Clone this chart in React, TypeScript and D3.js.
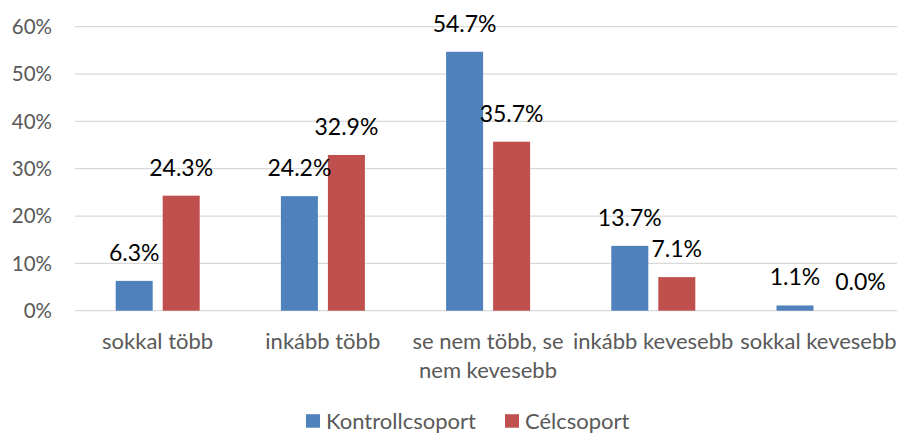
import * as d3 from 'd3'
import { useEffect, useRef } from 'react'

const categories = ['sokkal több', 'inkább több', 'se nem több, se|nem kevesebb', 'inkább kevesebb', 'sokkal kevesebb']
const seriesNames = ['Kontrollcsoport', 'Célcsoport']
const kontroll = [6.3, 24.2, 54.7, 13.7, 1.1]
const cel = [24.3, 32.9, 35.7, 7.1, 0.0]
const yTicks = [0, 10, 20, 30, 40, 50, 60]
const colors = ['#4F81BD', '#C0504D']

const FONT = 'Lato, Carlito, "Open Sans", sans-serif'

export default function App() {
    const svgRef = useRef<SVGSVGElement>(null)

    useEffect(() => {
        const w = 897
        const h = 434
        const svg = d3.select(svgRef.current)
        svg.selectAll('*').remove()
        svg.attr('width', w).attr('height', h)

        const left = 75
        const right = 901
        const top = 26.7
        const bottom = 310.7

        const x = d3.scaleBand().domain(categories).range([left, right])
        const inner = d3.scaleBand().domain(seriesNames)
                        .range([40.7, 124.7])
                        .paddingInner(10 / 47)
        const y = d3.scaleLinear().domain([0, 60]).range([bottom, top])

        // gridlines
        svg.append('g')
           .selectAll('line')
           .data(yTicks)
           .join('line')
           .attr('x1', left)
           .attr('x2', w)
           .attr('y1', d => y(d))
           .attr('y2', d => y(d))
           .attr('stroke', '#d9d9d9')
           .attr('stroke-width', 1.3)

        // y labels
        svg.append('g')
           .selectAll('text')
           .data(yTicks)
           .join('text')
           .attr('x', 52)
           .attr('y', d => y(d))
           .attr('dy', '0.35em')
           .attr('text-anchor', 'end')
           .attr('font-family', FONT)
           .attr('font-size', 20.5)
           .attr('fill', '#595959')
           .text(d => `${d}%`)

        const rows = categories.flatMap((c, i) => [
            { cat: c, s: seriesNames[0], v: kontroll[i], color: colors[0] },
            { cat: c, s: seriesNames[1], v: cel[i], color: colors[1] },
        ])

        svg.append('g')
           .selectAll('rect')
           .data(rows)
           .join('rect')
           .attr('x', d => x(d.cat)! + inner(d.s)!)
           .attr('y', d => y(d.v))
           .attr('width', inner.bandwidth())
           .attr('height', d => bottom - y(d.v))
           .attr('fill', d => d.color)

        // value labels, nudged right when they collide with the previous one
        const labels = svg.append('g')
        let prev: { x1: number, x2: number, y1: number, y2: number } | null = null
        rows.forEach(d => {
            const cx = x(d.cat)! + inner(d.s)! + inner.bandwidth() / 2
            const t = labels.append('text')
                            .attr('x', cx)
                            .attr('y', y(d.v) - 20)
                            .attr('text-anchor', 'middle')
                            .attr('font-family', FONT)
                            .attr('font-size', 23)
                            .attr('fill', '#000')
                            .text(`${d.v.toFixed(1)}%`)
            const tw = (t.node() as SVGTextElement).getComputedTextLength()
            let box = { x1: cx - tw / 2, x2: cx + tw / 2, y1: y(d.v) - 38, y2: y(d.v) - 20 }
            if (prev && box.x1 < prev.x2 + 4 && box.y1 < prev.y2 && box.y2 > prev.y1) {
                const shift = prev.x2 + 15 - box.x1
                t.attr('x', cx + shift).attr('y', y(d.v) - 21)
                box = { x1: box.x1 + shift, x2: box.x2 + shift, y1: box.y1, y2: box.y2 }
            }
            prev = box
        })

        // category labels
        const cats = svg.append('g')
        categories.forEach(c => {
            const t = cats.append('text')
                          .attr('text-anchor', 'middle')
                          .attr('font-family', FONT)
                          .attr('font-size', 22)
                          .attr('fill', '#595959')
            c.split('|').forEach((line, i) => {
                t.append('tspan')
                 .attr('x', x(c)! + x.bandwidth() / 2)
                 .attr('y', 349 + i * 29)
                 .text(line)
            })
        })

        // legend
        const legend = svg.append('g')
        const lx = [306, 505]
        seriesNames.forEach((s, i) => {
            legend.append('rect')
                  .attr('x', lx[i])
                  .attr('y', 414.2)
                  .attr('width', 14)
                  .attr('height', 13.5)
                  .attr('fill', colors[i])
            legend.append('text')
                  .attr('x', lx[i] + 20)
                  .attr('y', 428.5)
                  .attr('font-family', FONT)
                  .attr('font-size', 22)
                  .attr('fill', '#595959')
                  .text(s)
        })
    }, [])

    return (
        <svg ref={svgRef} style={{ position: 'absolute', left: 0, top: 0, background: '#fff' }} />
    )
}
